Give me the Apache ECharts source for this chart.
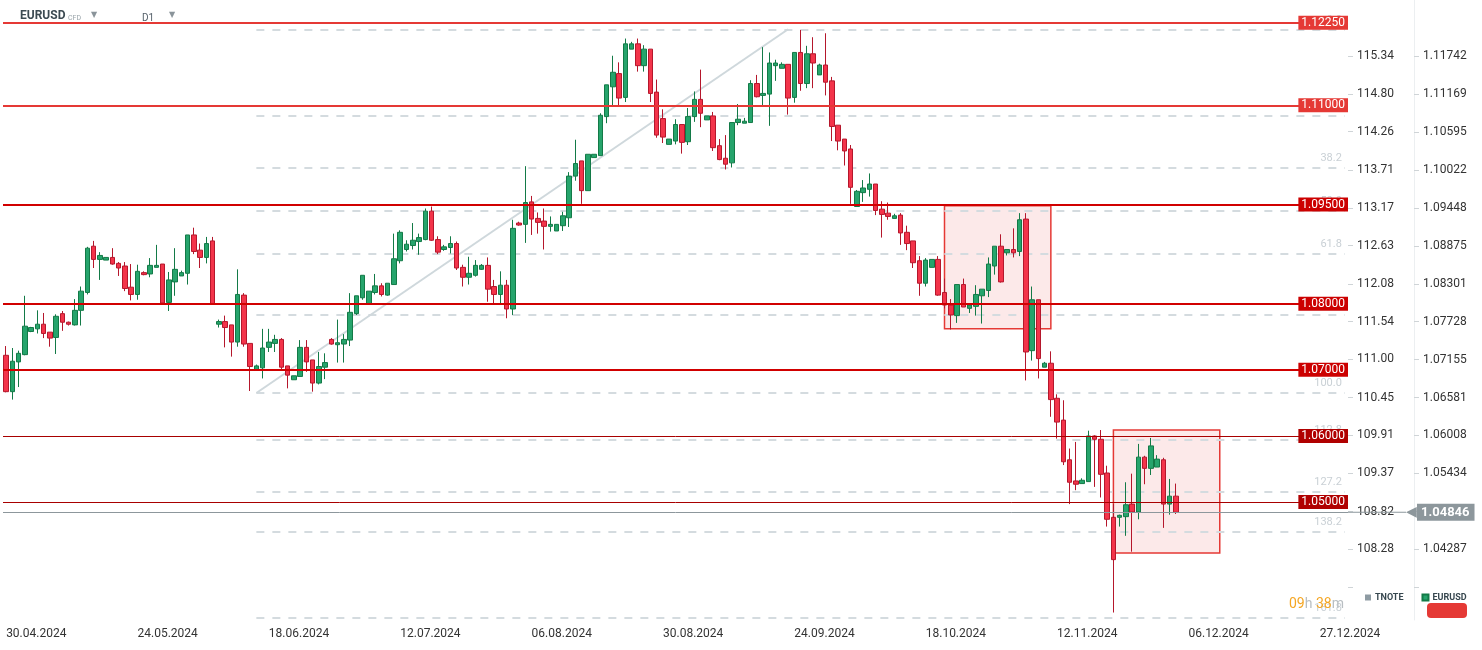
<!DOCTYPE html>
<html>
<head>
<meta charset="utf-8">
<script src="https://cdn.jsdelivr.net/npm/echarts@6/dist/echarts.min.js"></script>
<style>
html,body{margin:0;padding:0;background:#fff;}
#chart{width:1482px;height:650px;}
</style>
</head>
<body>
<div id="chart"></div>
<script>
// ---- DATA ----
// x-axis tick labels (one every 21 daily slots, first at slot 0)
const dateLabels = ['30.04.2024','24.05.2024','18.06.2024','12.07.2024','06.08.2024','30.08.2024','24.09.2024','18.10.2024','12.11.2024','06.12.2024','27.12.2024'];
const slotCount = 215;
// EURUSD D1 candles: [open, close, low, high]
const candles = [
[1.0722,1.0667,1.0666,1.0736],[1.0667,1.0713,1.0655,1.0733],[1.0712,1.0725,1.0674,1.0729],[1.0723,1.0766,1.0722,1.0812],
[1.0758,1.0764,1.0757,1.0765],[1.0762,1.0769,1.0755,1.0790],[1.0769,1.0755,1.0748,1.0786],[1.0757,1.0748,1.0735,1.0757],
[1.0749,1.0781,1.0724,1.0784],[1.0785,1.0772,1.0759,1.0789],[1.0772,1.0769,1.0767,1.0773],[1.0768,1.0790,1.0767,1.0807],
[1.0790,1.0819,1.0767,1.0826],[1.0817,1.0884,1.0814,1.0886],[1.0887,1.0867,1.0854,1.0895],[1.0867,1.0873,1.0836,1.0878],
[1.0866,1.0870,1.0866,1.0870],[1.0870,1.0860,1.0859,1.0884],[1.0861,1.0854,1.0842,1.0863],[1.0857,1.0823,1.0819,1.0863],
[1.0825,1.0814,1.0805,1.0860],[1.0814,1.0849,1.0806,1.0859],[1.0847,1.0844,1.0843,1.0849],[1.0845,1.0858,1.0840,1.0869],
[1.0855,1.0858,1.0855,1.0889],[1.0860,1.0801,1.0800,1.0860],[1.0802,1.0836,1.0789,1.0848],[1.0833,1.0852,1.0812,1.0884],
[1.0842,1.0847,1.0842,1.0850],[1.0846,1.0904,1.0829,1.0904],[1.0904,1.0879,1.0875,1.0915],[1.0881,1.0870,1.0854,1.0891],
[1.0870,1.0891,1.0861,1.0901],[1.0895,1.0799,1.0799,1.0901],[1.0769,1.0773,1.0764,1.0776],[1.0773,1.0764,1.0734,1.0782],
[1.0768,1.0742,1.0720,1.0768],[1.0742,1.0814,1.0735,1.0852],[1.0813,1.0739,1.0735,1.0816],[1.0740,1.0705,1.0668,1.0740],
[1.0700,1.0706,1.0700,1.0708],[1.0703,1.0733,1.0687,1.0762],[1.0734,1.0742,1.0727,1.0762],[1.0740,1.0746,1.0727,1.0753],
[1.0746,1.0704,1.0701,1.0748],[1.0706,1.0692,1.0672,1.0706],[1.0685,1.0691,1.0685,1.0691],[1.0690,1.0734,1.0690,1.0745],
[1.0734,1.0712,1.0697,1.0745],[1.0715,1.0680,1.0667,1.0715],[1.0680,1.0705,1.0678,1.0727],[1.0704,1.0711,1.0686,1.0725],
[1.0746,1.0739,1.0738,1.0748],[1.0738,1.0741,1.0711,1.0776],[1.0739,1.0746,1.0711,1.0754],[1.0745,1.0787,1.0736,1.0816],
[1.0785,1.0812,1.0783,1.0812],[1.0809,1.0843,1.0806,1.0843],[1.0800,1.0819,1.0800,1.0819],[1.0817,1.0827,1.0814,1.0845],
[1.0827,1.0814,1.0811,1.0831],[1.0813,1.0831,1.0812,1.0831],[1.0829,1.0868,1.0829,1.0906],[1.0865,1.0908,1.0861,1.0911],
[1.0882,1.0890,1.0879,1.0896],[1.0888,1.0896,1.0882,1.0922],[1.0894,1.0900,1.0874,1.0906],[1.0897,1.0940,1.0896,1.0944],
[1.0940,1.0896,1.0895,1.0947],[1.0897,1.0878,1.0875,1.0902],[1.0882,1.0886,1.0880,1.0889],[1.0885,1.0891,1.0876,1.0902],
[1.0891,1.0854,1.0851,1.0894],[1.0855,1.0840,1.0826,1.0859],[1.0840,1.0846,1.0829,1.0871],[1.0843,1.0858,1.0841,1.0866],
[1.0852,1.0858,1.0851,1.0860],[1.0858,1.0822,1.0803,1.0870],[1.0826,1.0814,1.0800,1.0836],[1.0814,1.0828,1.0801,1.0849],
[1.0828,1.0792,1.0778,1.0836],[1.0792,1.0914,1.0783,1.0927],[1.0922,1.0919,1.0918,1.0924],[1.0920,1.0953,1.0892,1.1008],
[1.0954,1.0928,1.0904,1.0963],[1.0929,1.0923,1.0906,1.0938],[1.0925,1.0917,1.0882,1.0944],[1.0917,1.0920,1.0909,1.0932],
[1.0910,1.0920,1.0910,1.0920],[1.0918,1.0933,1.0910,1.0939],[1.0930,1.0993,1.0916,1.0999],[1.0993,1.1012,1.0986,1.1048],
[1.1016,1.0971,1.0951,1.1016],[1.0971,1.1026,1.0971,1.1026],[1.1021,1.1026,1.1021,1.1026],[1.1024,1.1085,1.1024,1.1088],
[1.1083,1.1131,1.1073,1.1131],[1.1128,1.1150,1.1100,1.1175],[1.1148,1.1111,1.1100,1.1165],[1.1112,1.1193,1.1105,1.1201],
[1.1185,1.1193,1.1185,1.1196],[1.1193,1.1160,1.1151,1.1201],[1.1160,1.1185,1.1151,1.1191],[1.1185,1.1118,1.1105,1.1185],
[1.1120,1.1055,1.1051,1.1139],[1.1080,1.1052,1.1043,1.1094],[1.1041,1.1049,1.1041,1.1049],[1.1046,1.1071,1.1041,1.1079],
[1.1071,1.1044,1.1027,1.1071],[1.1045,1.1083,1.1040,1.1096],[1.1083,1.1109,1.1075,1.1121],[1.1109,1.1088,1.1067,1.1154],
[1.1078,1.1084,1.1078,1.1084],[1.1084,1.1036,1.1031,1.1090],[1.1039,1.1018,1.1017,1.1049],[1.1020,1.1011,1.1003,1.1055],
[1.1013,1.1074,1.1006,1.1074],[1.1074,1.1079,1.1070,1.1102],[1.1073,1.1076,1.1073,1.1081],[1.1074,1.1133,1.1074,1.1138],
[1.1133,1.1113,1.1112,1.1146],[1.1115,1.1118,1.1100,1.1188],[1.1117,1.1164,1.1069,1.1180],[1.1160,1.1164,1.1137,1.1169],
[1.1156,1.1162,1.1156,1.1165],[1.1162,1.1111,1.1086,1.1162],[1.1112,1.1180,1.1104,1.1180],[1.1180,1.1133,1.1122,1.1214],
[1.1133,1.1178,1.1126,1.1190],[1.1178,1.1164,1.1126,1.1203],[1.1146,1.1161,1.1146,1.1163],[1.1161,1.1135,1.1115,1.1209],
[1.1137,1.1068,1.1046,1.1143],[1.1070,1.1046,1.1032,1.1070],[1.1049,1.1031,1.1009,1.1049],[1.1034,1.0976,1.0951,1.1040],
[1.0947,1.0970,1.0947,1.0972],[1.0968,1.0975,1.0954,1.0987],[1.0973,1.0981,1.0962,1.0997],[1.0981,1.0941,1.0934,1.0981],
[1.0943,1.0935,1.0900,1.0955],[1.0937,1.0932,1.0927,1.0953],[1.0929,1.0933,1.0929,1.0936],[1.0934,1.0907,1.0889,1.0937],
[1.0908,1.0891,1.0881,1.0918],[1.0895,1.0862,1.0854,1.0895],[1.0865,1.0831,1.0812,1.0872],[1.0831,1.0866,1.0826,1.0869],
[1.0855,1.0867,1.0855,1.0867],[1.0867,1.0813,1.0812,1.0872],[1.0817,1.0798,1.0793,1.0838],[1.0798,1.0783,1.0761,1.0807],
[1.0782,1.0829,1.0771,1.0829],[1.0829,1.0795,1.0795,1.0838],[1.0793,1.0798,1.0786,1.0798],[1.0796,1.0814,1.0782,1.0828],
[1.0812,1.0822,1.0770,1.0822],[1.0820,1.0860,1.0810,1.0870],[1.0857,1.0887,1.0844,1.0887],[1.0887,1.0833,1.0832,1.0905],
[1.0877,1.0882,1.0873,1.0882],[1.0882,1.0877,1.0870,1.0914],[1.0879,1.0927,1.0872,1.0937],[1.0928,1.0727,1.0684,1.0937],
[1.0729,1.0806,1.0714,1.0826],[1.0806,1.0717,1.0687,1.0806],[1.0704,1.0710,1.0704,1.0712],[1.0710,1.0655,1.0629,1.0728],
[1.0657,1.0621,1.0596,1.0663],[1.0624,1.0561,1.0556,1.0654],[1.0564,1.0530,1.0497,1.0581],[1.0532,1.0527,1.0518,1.0591],
[1.0528,1.0533,1.0528,1.0536],[1.0531,1.0600,1.0531,1.0608],[1.0600,1.0595,1.0523,1.0601],[1.0595,1.0542,1.0507,1.0609],
[1.0544,1.0474,1.0463,1.0555],[1.0477,1.0413,1.0333,1.0497],[1.0477,1.0480,1.0463,1.0481],[1.0478,1.0496,1.0449,1.0530],
[1.0497,1.0485,1.0425,1.0543],[1.0485,1.0568,1.0474,1.0588],[1.0568,1.0551,1.0527,1.0570],[1.0551,1.0585,1.0541,1.0597],
[1.0553,1.0565,1.0553,1.0571],[1.0564,1.0497,1.0461,1.0567],[1.0497,1.0509,1.0481,1.0535],[1.0509,1.04846,1.0482,1.0528]
];
const lastPrice = 1.04846;
// y-axis tick labels
const eurTicks = [1.04287,1.04861,1.05434,1.06008,1.06581,1.07155,1.07728,1.08301,1.08875,1.09448,1.10022,1.10595,1.11169,1.11742];
const tnoteTicks = [108.28,108.82,109.37,109.91,110.45,111.00,111.54,112.08,112.63,113.17,113.71,114.26,114.80,115.34];
// horizontal support / resistance levels
const levels = [1.1225,1.1100,1.0950,1.0800,1.0700,1.0600,1.0500];
// Fibonacci retracement
const fibLabels = ['0.0','23.6','38.2','50.0','61.8','78.6','100.0','112.8','127.2','138.2','161.8'];
const fibPrices = [1.1215,1.1085,1.1005,1.0940,1.0875,1.0783,1.0665,1.0595,1.0515,1.0455,1.0325];
const fibStartSlot = 40;
const fibTrend = [[40,1.0665],[125,1.1215]];
// highlighted zones: [startSlot, topPrice, endSlot, bottomPrice]
const zones = [[150,1.0948,167,1.0762],[177,1.0609,194,1.0423]];

// ---- STYLES ----
const levelStyle = [
  {line:'#e53935', bg:'#e53935', w:2},
  {line:'#e53935', bg:'#e53935', w:2},
  {line:'#d10000', bg:'#cc0000', w:2.2},
  {line:'#d10000', bg:'#cc0000', w:2.2},
  {line:'#d10000', bg:'#cc0000', w:2.2},
  {line:'#a80000', bg:'#b00000', w:1},
  {line:'#a80000', bg:'#b00000', w:1}
];

const slots = Array.from({length: slotCount}, (_, i) => String(i));

const chart = echarts.init(document.getElementById('chart'), null, {renderer:'canvas'});
const option = {
  animation: false,
  backgroundColor: '#ffffff',
  textStyle: {fontFamily: 'Roboto'},
  grid: {left: 3, right: 134, top: 0, bottom: 30},
  legend: {
    left: 1360, top: 588, icon: 'rect', itemWidth: 6, itemHeight: 6, itemGap: 18,
    selectedMode: false,
    textStyle: {fontSize: 9, fontWeight: 'bold', color: '#37474f', padding: [0,0,0,-1]},
    data: [{name:'TNOTE', itemStyle:{color:'#8e9ba3'}}, {name:'EURUSD', itemStyle:{color:'#26a46c'}}]
  },
  xAxis: {
    type: 'category', data: slots, boundaryGap: true,
    axisLine: {show: false}, axisTick: {show: false}, splitLine: {show: false},
    axisLabel: {
      interval: (i) => i % 21 === 0,
      formatter: (v, i) => dateLabels[i / 21] || '',
      align: 'left', color: '#333', fontSize: 12, margin: 8
    }
  },
  yAxis: [
    {
      type: 'value', position: 'right', min: 107.267, max: 116.146,
      axisLine: {show: false}, splitLine: {show: false},
      axisTick: {show: true, length: 5, lineStyle: {color: '#cfd4d7'}, customValues: tnoteTicks.concat([107.74])},
      axisLabel: {customValues: tnoteTicks, formatter: (v) => v.toFixed(2), color: '#333', fontSize: 12, margin: 9}
    },
    {
      type: 'value', position: 'right', offset: 66, min: 1.03217, max: 1.12593,
      axisLine: {show: true, lineStyle: {color: '#eceff1'}}, splitLine: {show: false},
      axisTick: {show: true, length: 5, lineStyle: {color: '#cfd4d7'}, customValues: eurTicks.concat([1.03714])},
      axisLabel: {customValues: eurTicks, formatter: (v) => v.toFixed(5), color: '#333', fontSize: 12, margin: 9}
    }
  ],
  series: [
    {name: 'TNOTE', type: 'line', yAxisIndex: 0, data: [], color: '#8e9ba3'},
    {
      name: 'fib', type: 'line', yAxisIndex: 1, data: [], silent: true,
      markLine: {
        silent: true, symbol: 'none', z: 2, precision: 6,
        lineStyle: {type: [8, 8], color: '#d4dbdf', width: 2},
        label: {position: 'insideEndTop', distance: [3, 4], color: '#c9d0d5', fontSize: 11},
        data: fibPrices.map((p, k) => [
          {coord: [String(fibStartSlot), p], label: {formatter: fibLabels[k]}},
          {coord: [String(slotCount - 1), p]}
        ])
      }
    },
    {
      name: 'trend', type: 'line', yAxisIndex: 1, data: [], silent: true,
      markLine: {
        silent: true, symbol: 'none', z: 2, precision: 6,
        lineStyle: {type: 'solid', color: '#cfd8dc', width: 2},
        label: {show: false},
        data: [[{coord: [String(fibTrend[0][0]), fibTrend[0][1]]}, {coord: [String(fibTrend[1][0]), fibTrend[1][1]]}]]
      }
    },
    {
      name: 'EURUSD', type: 'candlestick', yAxisIndex: 1, data: candles, barWidth: 5,
      itemStyle: {color: '#26a46c', color0: '#f3344a', borderColor: '#137a47', borderColor0: '#b5172c', borderWidth: 1},
      markArea: {
        silent: true, precision: 6,
        itemStyle: {color: 'rgba(229,57,53,0.11)', borderColor: '#e53935', borderWidth: 1.5},
        data: zones.map(z => [{coord: [String(z[0]), z[1]]}, {coord: [String(z[2]), z[3]]}])
      }
    },
    {
      name: 'levels', type: 'line', yAxisIndex: 1, data: [], silent: true,
      markLine: {
        silent: true, symbol: 'none', z: 6, precision: 6,
        data: levels.map((v, k) => ({
          yAxis: v,
          lineStyle: {type: 'solid', color: levelStyle[k].line, width: levelStyle[k].w},
          label: {
            show: true, position: 'insideEnd', distance: 0, formatter: v.toFixed(5),
            backgroundColor: levelStyle[k].bg, color: '#fff', fontSize: 12, padding: [1, 3, 1, 3]
          }
        }))
      }
    },
    {
      name: 'price', type: 'line', yAxisIndex: 1, data: [], silent: true,
      markLine: {
        silent: true, symbol: 'none', z: 7, precision: 6,
        data: [{
          yAxis: lastPrice,
          lineStyle: {type: 'solid', color: '#8d979c', width: 1},
          label: {
            show: true, position: 'end', distance: 0,
            formatter: '{ln| }{ar|◀}{bx|' + lastPrice.toFixed(5) + '}',
            rich: {
              ln: {width: 58, height: 1, backgroundColor: '#8d979c', fontSize: 1},
              ar: {color: '#8d979c', fontSize: 14, padding: [0, 0, 0, 0]},
              bx: {backgroundColor: '#8d979c', color: '#fff', fontWeight: 'bold', fontSize: 13, padding: [2, 5, 2, 4]}
            }
          }
        }]
      }
    }
  ],
  graphic: [
    {type: 'text', left: 20, top: 10, z: 1, style: {text: 'EURUSD', font: 'bold 12px Roboto', fill: '#3c4a52'}},
    {type: 'text', left: 68, top: 15, z: 1, style: {text: 'CFD', font: '7px Roboto', fill: '#9aa4aa'}},
    {type: 'text', left: 91, top: 11, z: 1, style: {text: '▼', font: '8px DejaVu Sans', fill: '#8a949a'}},
    {type: 'text', left: 142, top: 13, z: 1, style: {text: 'D1', font: '10px Roboto', fill: '#55606a'}},
    {type: 'text', left: 169, top: 11, z: 1, style: {text: '▼', font: '8px DejaVu Sans', fill: '#8a949a'}},
    {type: 'text', left: 1289, top: 597, z: 100, style: {
      text: '{o|09}{g|h }{o|38}{g|m}',
      rich: {o: {fill: '#f5a623', fontSize: 14, fontFamily: 'Roboto'}, g: {fill: '#b8bec2', fontSize: 14, fontFamily: 'Roboto'}}
    }},
    {type: 'rect', left: 1427, top: 603, z: 100, shape: {width: 40, height: 15, r: 4}, style: {fill: '#e53935'}}
  ]
};
chart.setOption(option);
</script>
</body>
</html>
